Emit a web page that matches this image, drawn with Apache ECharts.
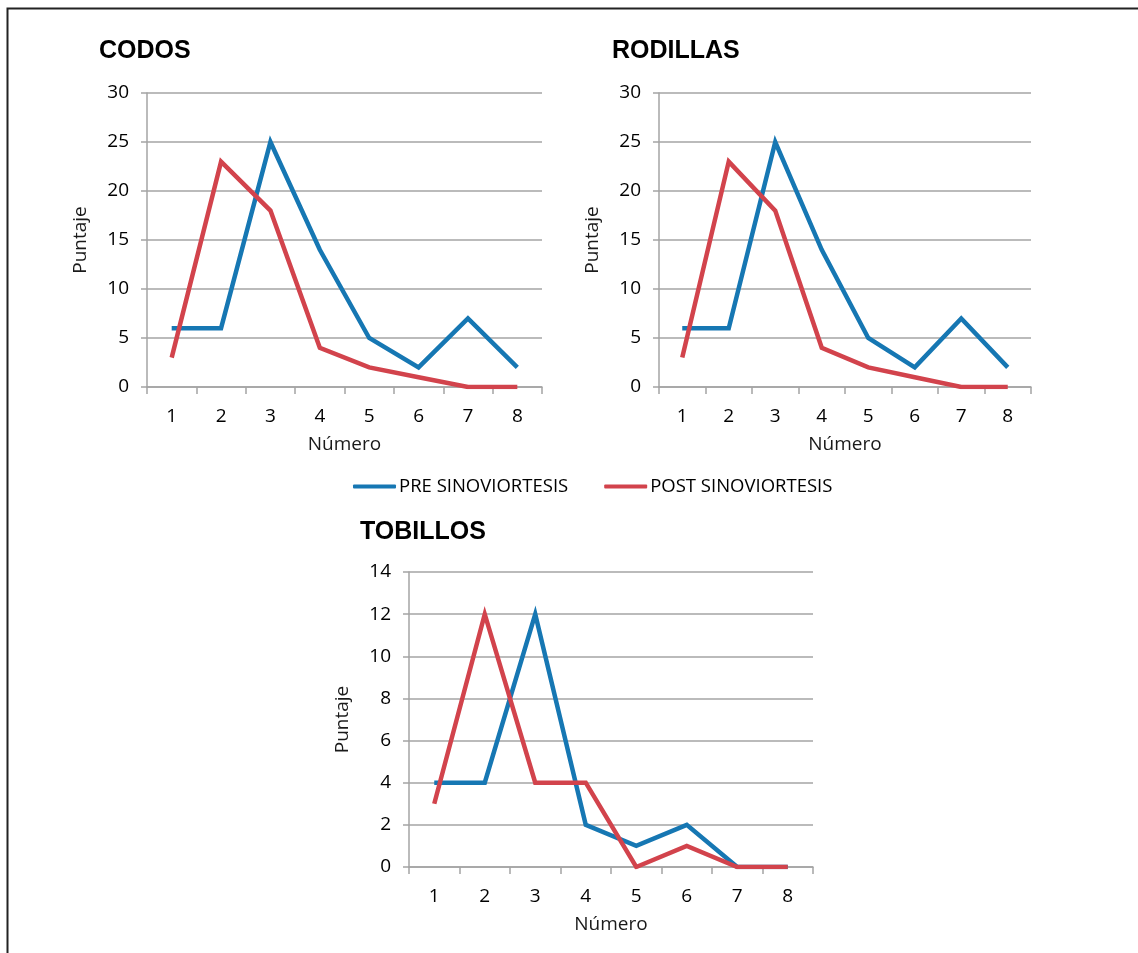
<!DOCTYPE html>
<html>
<head>
<meta charset="utf-8">
<script src="https://cdn.jsdelivr.net/npm/echarts@6/dist/echarts.min.js"></script>
<style>
html,body{margin:0;padding:0;background:#fff;}
#c{width:1138px;height:953px;}
</style>
</head>
<body>
<div id="c"></div>
<script>
const categories = ['1','2','3','4','5','6','7','8'];
const titles = ['CODOS','RODILLAS','TOBILLOS'];
const seriesNames = ['PRE SINOVIORTESIS','POST SINOVIORTESIS'];
const codosPre = [6,6,25,14,5,2,7,2];
const codosPost = [3,23,18,4,2,1,0,0];
const rodillasPre = [6,6,25,14,5,2,7,2];
const rodillasPost = [3,23,18,4,2,1,0,0];
const tobillosPre = [4,4,12,2,1,2,0,0];
const tobillosPost = [3,12,4,4,0,1,0,0];
const yMax = [30,30,14];
const yInterval = [5,5,2];

const BLUE = '#1677b3';
const RED = '#d2434c';
const GRIDC = '#a4a4a4';
const FONT = '"Open Sans", sans-serif';

const grids = [
  {left:147, top:93, width:395, height:294},
  {left:659, top:93, width:372, height:294},
  {left:409, top:572, width:404, height:295}
];
const titlePos = [{left:99, top:39},{left:612, top:39},{left:360, top:520}];

const xAxes = grids.map((g,i)=>({
  type:'category', gridIndex:i, data:categories, boundaryGap:true,
  name:'Número', nameLocation:'middle', nameGap:48,
  nameTextStyle:{fontFamily:FONT, fontSize:19, color:'#1a1a1a'},
  axisLine:{lineStyle:{color:GRIDC, width:1.5}},
  axisTick:{show:true, length:7, lineStyle:{color:GRIDC, width:1.5}},
  axisLabel:{fontFamily:FONT, fontSize:19, color:'#000', margin:20}
}));
const yAxes = grids.map((g,i)=>({
  type:'value', gridIndex:i, min:0, max:yMax[i], interval:yInterval[i],
  name:'Puntaje', nameLocation:'middle', nameGap:57, nameRotate:90,
  nameTextStyle:{fontFamily:FONT, fontSize:19, color:'#1a1a1a'},
  axisLine:{show:true, lineStyle:{color:GRIDC, width:1.5}},
  axisTick:{show:true, length:6, lineStyle:{color:GRIDC, width:1.5}},
  axisLabel:{fontFamily:FONT, fontSize:19, color:'#000', margin:18},
  splitLine:{show:true, lineStyle:{color:GRIDC, width:1.5}}
}));
const data = [[codosPre,codosPost],[rodillasPre,rodillasPost],[tobillosPre,tobillosPost]];
const series = [];
data.forEach((pair,i)=>{
  pair.forEach((vals,j)=>{
    series.push({
      type:'line', name:seriesNames[j], xAxisIndex:i, yAxisIndex:i,
      data:vals, showSymbol:false, symbol:'none',
      lineStyle:{color: j===0?BLUE:RED, width:4.5, join:'miter'},
      itemStyle:{color: j===0?BLUE:RED},
      z: j===0?2:3, animation:false
    });
  });
});

const chart = echarts.init(document.getElementById('c'), null, {renderer:'canvas'});
chart.setOption({
  animation:false,
  backgroundColor:'#fff',
  title: titles.map((t,i)=>({
    text:t, left:titlePos[i].left, top:titlePos[i].top, padding:0,
    textStyle:{fontFamily:'"Liberation Sans", Arial, sans-serif', fontWeight:'bold', fontSize:25, color:'#000'}
  })),
  legend:{
    left:353, top:477, padding:0, itemWidth:43, itemHeight:4, itemGap:36, icon:'roundRect',
    data:seriesNames,
    textStyle:{fontFamily:FONT, fontSize:18.5, color:'#000', padding:[0,0,0,-2]}
  },
  graphic:[{
    type:'rect', left:5, top:6, silent:true,
    shape:{width:1300, height:1100},
    style:{fill:'none', stroke:'#222', lineWidth:2}
  }],
  grid:grids,
  xAxis:xAxes,
  yAxis:yAxes,
  series:series
});
</script>
</body>
</html>
